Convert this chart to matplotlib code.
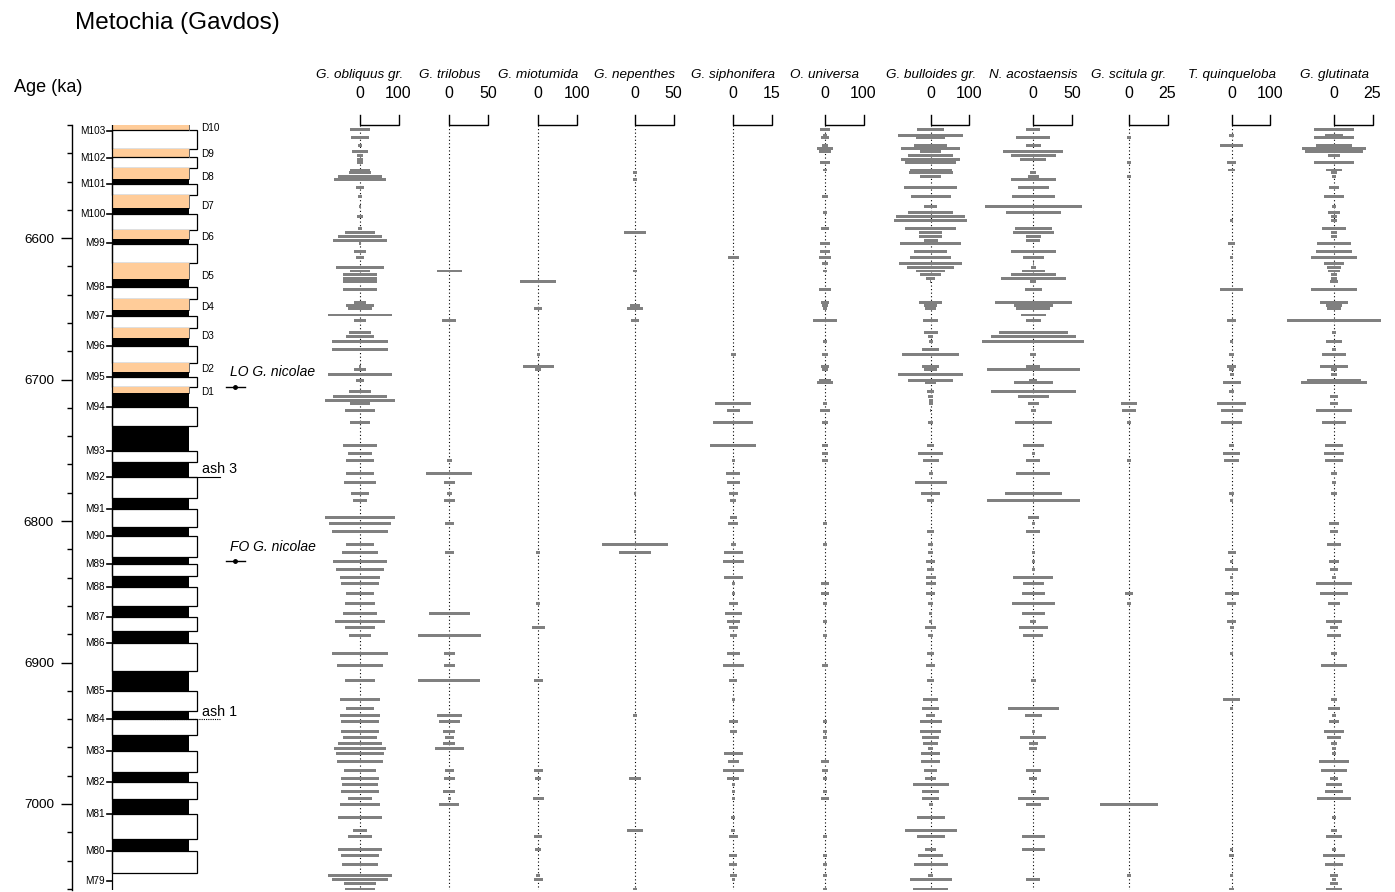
import matplotlib
matplotlib.use("Agg")
import matplotlib.pyplot as plt
from matplotlib.patches import Rectangle
import numpy as np

plt.rcParams['font.family'] = ['Liberation Sans', 'DejaVu Sans']

# sample ages (ka), shared by all species
ages = [6523.2, 6527.2, 6528.8, 6534.3, 6536.6, 6539.0, 6542.0, 6544.4, 6546.5, 6551.9,
        6553.6, 6556.2, 6558.5, 6564.2, 6570.5, 6577.4, 6581.8, 6584.5, 6587.3, 6593.1,
        6596.3, 6599.1, 6601.4, 6603.7, 6609.2, 6613.6, 6617.9, 6620.7, 6623.3, 6626.1,
        6628.5, 6630.9, 6636.3, 6645.4, 6647.6, 6649.7, 6654.4, 6658.4, 6666.6, 6669.8,
        6672.8, 6678.7, 6682.2, 6690.5, 6692.8, 6696.3, 6700.4, 6702.0, 6708.8, 6711.7,
        6714.5, 6716.8, 6721.6, 6730.2, 6746.3, 6752.2, 6757.1, 6766.3, 6772.6, 6780.4,
        6785.4, 6797.4, 6801.6, 6807.3, 6816.5, 6822.1, 6828.5, 6834.1, 6839.8, 6844.0,
        6851.1, 6858.2, 6865.2, 6870.9, 6875.1, 6880.8, 6893.5, 6902.0, 6912.6, 6926.0,
        6932.4, 6937.3, 6941.6, 6948.6, 6952.9, 6957.1, 6960.6, 6964.2, 6969.8, 6976.2,
        6981.8, 6986.1, 6991.0, 6996.0, 7000.2, 7009.4, 7018.6, 7022.8, 7032.0, 7036.3,
        7042.6, 7050.4, 7053.2, 7056.0, 7060.3]

obliquus = [26, 0, 23, 4, 0, 20, 9, 7, 7, 26,
            29, 56, 68, 10, 4, 3, 0, 7, 0, 4,
            39, 56, 70, 3, 16, 10, 0, 62, 26, 43,
            43, 43, 44, 16, 36, 31, 84, 16, 28, 36,
            73, 73, 0, 3, 16, 83, 10, 0, 28, 70,
            91, 26, 39, 26, 43, 32, 36, 36, 42, 23,
            19, 91, 81, 73, 36, 47, 70, 63, 52, 50,
            36, 39, 44, 65, 39, 29, 73, 60, 39, 52,
            36, 52, 50, 50, 44, 57, 68, 63, 60, 42,
            50, 46, 50, 32, 52, 57, 18, 32, 57, 50,
            47, 84, 73, 42, 39]
trilobus = [0, 0, 0, 0, 0, 0, 0, 0, 0, 0,
            0, 0, 0, 0, 0, 0, 0, 0, 0, 0,
            0, 0, 0, 0, 0, 0, 0, 0, 16, 0,
            0, 0, 0, 0, 0, 0, 0, 9, 0, 0,
            0, 0, 0, 0, 0, 0, 0, 0, 0, 0,
            0, 0, 0, 0, 0, 0, 3, 30, 7, 3,
            7, 0, 6, 0, 0, 6, 0, 0, 0, 0,
            0, 0, 27, 0, 0, 41, 7, 7, 40, 0,
            0, 16, 14, 8, 6, 8, 19, 0, 0, 6,
            7, 0, 8, 2, 13, 0, 0, 0, 0, 0,
            0, 0, 0, 0, 0]
miotumida = [0, 0, 0, 0, 0, 0, 0, 0, 0, 0,
             0, 0, 0, 0, 0, 0, 0, 0, 0, 0,
             0, 0, 0, 0, 0, 0, 0, 0, 0, 0,
             0, 47, 0, 0, 0, 10, 0, 0, 0, 0,
             0, 0, 4, 41, 8, 0, 0, 0, 0, 0,
             0, 0, 0, 0, 0, 0, 0, 0, 0, 0,
             0, 0, 0, 0, 0, 5, 0, 0, 0, 0,
             0, 5, 0, 0, 17, 0, 0, 0, 11, 0,
             0, 0, 0, 0, 0, 0, 0, 0, 0, 11,
             8, 0, 0, 14, 0, 0, 0, 10, 8, 0,
             0, 5, 12, 0, 0]
nepenthes = [0, 0, 0, 0, 0, 0, 0, 0, 0, 0,
             3, 0, 3, 0, 0, 0, 0, 0, 0, 0,
             14, 0, 0, 0, 0, 0, 0, 0, 3, 0,
             0, 0, 0, 0, 6, 11, 0, 5, 0, 0,
             0, 0, 0, 0, 0, 0, 0, 0, 0, 0,
             0, 0, 0, 0, 0, 0, 0, 0, 0, 1,
             0, 0, 0, 1, 43, 21, 0, 0, 0, 0,
             0, 0, 0, 0, 0, 0, 0, 0, 0, 0,
             0, 2, 0, 0, 0, 0, 0, 0, 0, 0,
             8, 0, 0, 0, 0, 0, 10, 0, 0, 0,
             0, 0, 0, 0, 2]
siphonifera = [0, 0, 0, 0, 0, 0, 0, 0, 0, 0,
               0, 0, 0, 0, 0, 0, 0, 0, 0, 0,
               0, 0, 0, 0, 0, 2.1, 0, 0, 0, 0,
               0, 0, 0, 0, 0, 0, 0, 0, 0, 0,
               0, 0, 0.9, 0, 0, 0, 0, 0, 0, 0,
               0, 7, 2.6, 7.8, 9, 0, 0.6, 2.7, 2.6, 1.8,
               1.2, 1.4, 2, 0, 1, 3.7, 4.2, 0, 3.6, 0.6,
               0.6, 1.8, 3.4, 2.6, 1.8, 1.4, 2.6, 4.1, 1.6, 0.6,
               0, 0, 1.8, 1.4, 0, 0, 0, 3.7, 2.2, 4.2,
               2.4, 0.6, 0.6, 0.6, 0, 0.8, 0.8, 1.8, 0, 1.6,
               1.6, 1.4, 0.6, 0, 0]
universa = [14, 6, 10, 9, 21, 16, 0, 0, 13, 4,
            0, 0, 0, 0, 7, 0, 4, 0, 0, 10,
            0, 0, 0, 12, 14, 16, 7, 0, 4, 0,
            0, 0, 16, 10, 7, 4, 0, 30, 0, 0,
            4, 0, 9, 11, 9, 0, 16, 21, 0, 0,
            0, 4, 13, 8, 8, 8, 8, 0, 0, 0,
            0, 0, 5, 0, 5, 0, 0, 0, 0, 10,
            10, 5, 0, 5, 0, 5, 0, 9, 0, 0,
            0, 0, 5, 5, 5, 0, 0, 0, 10, 9,
            5, 0, 5, 11, 0, 0, 0, 5, 0, 5,
            6, 5, 0, 0, 5]
bulloides = [35, 84, 38, 43, 76, 27, 58, 77, 66, 55,
             57, 27, 0, 69, 52, 17, 58, 90, 95, 66,
             30, 30, 18, 79, 43, 53, 82, 61, 38, 27,
             12, 2, 0, 30, 17, 14, 0, 20, 18, 6,
             5, 22, 74, 22, 17, 84, 58, 14, 9, 6,
             5, 5, 1, 6, 9, 32, 21, 5, 42, 25,
             9, 0, 0, 9, 6, 6, 12, 9, 13, 13,
             12, 7, 4, 4, 15, 6, 9, 12, 9, 20,
             22, 12, 29, 28, 22, 20, 6, 24, 24, 17,
             15, 47, 22, 22, 5, 36, 68, 36, 15, 33,
             44, 6, 55, 0, 46]
acostaensis = [9, 0, 22, 10, 0, 39, 29, 17, 0, 0,
               4, 7, 29, 20, 28, 63, 36, 0, 0, 24,
               27, 10, 9, 0, 29, 14, 1, 3, 15, 29,
               42, 4, 11, 50, 25, 22, 16, 10, 45, 55,
               66, 1, 4, 9, 60, 1, 5, 25, 55, 20,
               0, 7, 3, 24, 14, 2, 9, 22, 0, 37,
               60, 7, 2, 9, 0, 2, 2, 2, 26, 14,
               15, 28, 15, 4, 19, 13, 0, 0, 3, 0,
               33, 11, 0, 2, 17, 6, 5, 0, 0, 10,
               5, 0, 3, 20, 10, 0, 0, 15, 15, 0,
               0, 0, 9, 0, 0]
scitula = [0, 0, 1, 0, 0, 0, 0, 0, 1, 0,
           0, 1.6, 0, 0, 0, 0, 0, 0, 0, 0,
           0, 0, 0, 0, 0, 0, 0, 0, 0, 0,
           0, 0, 0, 0, 0, 0, 0, 0, 0, 0,
           0, 0, 0, 0, 0, 0, 0, 0, 0, 0,
           0, 5.4, 4.7, 1.3, 0, 0, 1.3, 0, 0, 0,
           0, 0, 0, 0, 0, 0, 0, 0, 0, 0,
           2.5, 1, 0, 0, 0, 0, 0, 0, 0, 0,
           0, 0, 0, 0, 0, 0, 0, 0, 0, 0,
           0, 0, 0, 0, 19, 0, 0, 0, 0, 0,
           0, 1, 0, 0, 0]
quinqueloba = [0, 6, 0, 30, 0, 0, 0, 0, 11, 9,
               0, 0, 0, 0, 0, 0, 0, 0, 4, 0,
               0, 0, 0, 9, 0, 4, 0, 0, 0, 0,
               0, 0, 30, 0, 0, 0, 0, 12, 0, 0,
               4, 0, 7, 12, 7, 5, 0, 23, 7, 0,
               0, 38, 29, 28, 7, 22, 20, 0, 0, 7,
               4, 0, 0, 0, 0, 10, 4, 17, 4, 0,
               18, 12, 0, 12, 5, 0, 4, 0, 0, 22,
               4, 0, 0, 0, 0, 0, 0, 0, 0, 0,
               0, 0, 0, 0, 0, 0, 0, 0, 4, 7,
               0, 4, 0, 0, 7]
glutinata = [13, 6, 13, 12, 21, 19, 4, 0, 13, 5,
             2, 1, 0, 3, 6.5, 1, 4, 2, 2, 8,
             2, 2, 0, 11, 12, 15, 6.5, 4.5, 4, 2,
             2, 2.6, 15, 9, 5, 4.5, 0, 30.5, 1, 0,
             5.5, 1, 8, 9.4, 2, 2, 17.5, 21.5, 0, 2.6,
             0, 2.8, 11.4, 7.7, 5.6, 6.3, 5.6, 2.2, 1.4, 2,
             0, 0, 3.5, 2.9, 4.8, 0, 3.5, 2.5, 1.4, 11.4,
             9.4, 4.2, 0, 5.3, 2.5, 4.6, 2, 8.7, 0, 2,
             3.9, 1.4, 3.2, 6.3, 4.6, 2.2, 1.4, 1.4, 9.7, 8.7,
             2.9, 4.9, 5.6, 10.8, 0, 1.4, 2, 4.9, 1.4, 7.3,
             6, 2.9, 1.4, 2.5, 5.3]

species_names = ["G. obliquus gr.", "G. trilobus", "G. miotumida", "G. nepenthes",
                 "G. siphonifera", "O. universa", "G. bulloides gr.", "N. acostaensis",
                 "G. scitula gr.", "T. quinqueloba", "G. glutinata"]
species_values = [obliquus, trilobus, miotumida, nepenthes, siphonifera, universa,
                  bulloides, acostaensis, scitula, quinqueloba, glutinata]
scale_max = [100, 50, 100, 50, 15, 100, 100, 50, 25, 100, 25]

# lithology: (top age, bottom age, kind)  O = sapropel (orange), B = black, W = marl
litho_top = [6520.1, 6523.7, 6537.3, 6542.5, 6550.7, 6558.5, 6561.8, 6569.6, 6579.0, 6583.0,
             6594.3, 6600.9, 6604.2, 6617.9, 6629.0, 6634.4, 6643.3, 6650.9, 6655.1, 6663.8,
             6670.9, 6676.3, 6688.1, 6694.5, 6698.4, 6705.5, 6709.3, 6719.6, 6732.9, 6750.5,
             6758.5, 6769.1, 6783.5, 6791.5, 6804.0, 6810.6, 6825.2, 6830.6, 6838.9, 6846.6,
             6860.1, 6867.6, 6877.5, 6886.0, 6905.8, 6919.9, 6934.1, 6939.9, 6951.2, 6962.3,
             6977.6, 6984.2, 6996.7, 7007.1, 7025.0, 7033.0, 7049.0, 7054.2]
litho_kind = "OWOWOBWOBWOBWOBWOBWOBWOBWOBWBWBWBWBWBWBWBWBWBWBWBWBWBWBW"
litho_base = 7060.8

cycle_labels = ["M103", "M102", "M101", "M100", "M99", "M98", "M97", "M96", "M95", "M94",
                "M93", "M92", "M91", "M90", "M89", "M88", "M87", "M86", "M85", "M84",
                "M83", "M82", "M81", "M80", "M79"]
cycle_ages = [6524.2, 6543.3, 6561.8, 6583.0, 6603.7, 6634.4, 6655.1, 6676.3, 6698.4, 6719.6,
              6750.5, 6769.1, 6791.5, 6810.6, 6830.6, 6846.6, 6867.6, 6886.0, 6919.9, 6939.9,
              6962.3, 6984.2, 7007.1, 7033.0, 7054.2]
sapropel_labels = ["D10", "D9", "D8", "D7", "D6", "D5", "D4", "D3", "D2", "D1"]
sapropel_ages = [6522.3, 6540.8, 6556.7, 6577.2, 6599.5, 6626.9, 6648.6, 6669.3, 6692.8, 6708.6]

W, H = 1395, 892
AGE_TOP, AGE_BOT = 6520.1, 7060.8
Y_TOP, Y_BOT = 125, 890
PX_PER_KA = (Y_BOT - Y_TOP) / (AGE_BOT - AGE_TOP)
panel_centers = [360, 449.3, 538.3, 635, 733.3, 825, 930.7, 1033.3, 1129, 1231.7, 1334]
SCALE_PX = 38.5
GREY = "#808080"


def fig_box(x0, x1):
    return [x0 / W, 1 - Y_BOT / H, (x1 - x0) / W, (Y_BOT - Y_TOP) / H]


def age_at(ypx):
    return AGE_TOP + (ypx - Y_TOP) / PX_PER_KA


fig = plt.figure(figsize=(W / 100, H / 100), dpi=100)

fig.text(75 / W, 1 - 23 / H, "Metochia (Gavdos)", fontsize=17.5, ha="left", va="center")
fig.text(14 / W, 1 - 87 / H, "Age (ka)", fontsize=13, ha="left", va="center")

# ---- age axis + lithology column ----
ax = fig.add_axes(fig_box(72, 320))
ax.set_xlim(72, 320)
ax.set_ylim(AGE_BOT, AGE_TOP)
ax.patch.set_alpha(0)
for s in ["top", "right", "bottom"]:
    ax.spines[s].set_visible(False)
ax.spines["left"].set_linewidth(1.0)
ax.set_xticks([])
ax.set_yticks([6600, 6700, 6800, 6900, 7000])
ax.set_yticks(np.arange(6520, 7061, 20), minor=True)
ax.tick_params(axis="y", which="major", length=8, width=1.0, labelsize=9.7, pad=5)
ax.tick_params(axis="y", which="minor", length=3.5, width=1.0)

tops = litho_top
bots = litho_top[1:] + [litho_base]
for t, b, k in zip(tops, bots, litho_kind):
    if k == "W":
        ax.add_patch(Rectangle((112.3, t), 196.7 - 112.3, b - t, facecolor="white",
                               edgecolor="black", linewidth=0.9, zorder=2))
    elif k == "O":
        ax.add_patch(Rectangle((112.3, t), 189 - 112.3, b - t, facecolor="#FFCC99",
                               edgecolor="none", zorder=2))
        ax.plot([189, 189], [t, b], color="#666666", lw=0.7, zorder=3)
    else:
        ax.add_patch(Rectangle((112.3, t), 189 - 112.3, b - t, facecolor="black",
                               edgecolor="none", zorder=2))
ax.plot([112.3, 112.3], [AGE_TOP, AGE_BOT], color="black", lw=0.9, zorder=4)

for lab, a in zip(cycle_labels, cycle_ages):
    ax.plot([106.5, 112.3], [a, a], color="black", lw=1.2, zorder=4)
    ax.text(105, a, lab, fontsize=7.2, ha="right", va="center")
for lab, a in zip(sapropel_labels, sapropel_ages):
    ax.text(201, a, lab, fontsize=7.2, ha="left", va="center")

# ash layers
ax.plot([189, 220], [age_at(476.7)] * 2, color="black", lw=0.8, zorder=4)
ax.text(202, age_at(469.3), "ash 3", fontsize=10.3, ha="left", va="center")
ax.plot([150, 220], [age_at(719)] * 2, color="black", lw=0.8, ls=(0, (1, 1)), zorder=4)
ax.text(202, age_at(711.7), "ash 1", fontsize=10.3, ha="left", va="center")

# bioevents
for txt, ytxt, yline in [("LO G. nicolae", 371.7, 386.7), ("FO G. nicolae", 547.3, 561)]:
    ax.text(230, age_at(ytxt), txt, fontsize=10, style="italic", ha="left", va="center")
    ax.plot([226, 245], [age_at(yline)] * 2, color="black", lw=1.0)
    ax.plot([235], [age_at(yline)], "o", color="black", ms=2.5)

# ---- species panels ----
for name, vals, smax, cx in zip(species_names, species_values, scale_max, panel_centers):
    half = 55
    pax = fig.add_axes(fig_box(cx - half, cx + half))
    lim = half / SCALE_PX * smax
    pax.set_xlim(-lim, lim)
    pax.set_ylim(AGE_BOT, AGE_TOP)
    pax.axis("off")
    v = np.array(vals, dtype=float)
    pax.plot([0, 0], [AGE_TOP, AGE_BOT], color="black", lw=0.8, ls=(0, (1, 2.2)), zorder=1)
    pax.barh(ages, 2 * v, left=-v, height=2.1, color=GREY, linewidth=0, zorder=2)
    # scale bracket
    y_top = age_at(115)
    pax.plot([0, 0, smax, smax], [y_top, AGE_TOP, AGE_TOP, y_top], color="black",
             lw=1.0, clip_on=False, solid_joinstyle="miter")
    pax.text(0, age_at(93), "0", fontsize=11.5, ha="center", va="center")
    pax.text(smax, age_at(93), str(smax), fontsize=11.5, ha="center", va="center")
    pax.text(0, age_at(75), name, fontsize=9.7, style="italic", ha="center", va="center")

fig.savefig("out.png", dpi=100)
